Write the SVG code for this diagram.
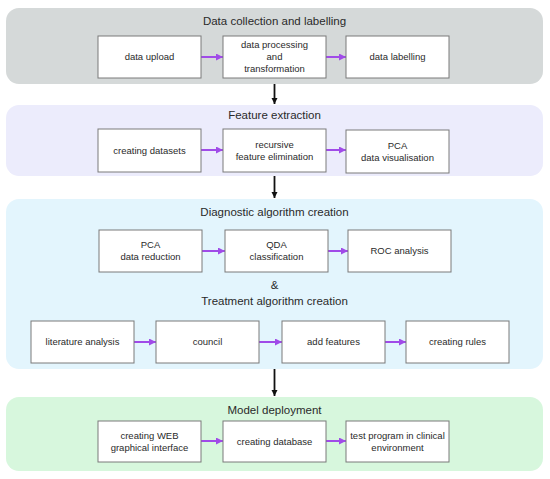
<svg xmlns="http://www.w3.org/2000/svg" width="550" height="479" viewBox="0 0 550 479">
<style>
.panel{stroke:none}
.box{fill:#fff;stroke:#7a7a7a;stroke-width:1}
.t{font-family:"Liberation Sans",Arial,sans-serif;font-size:9.5px;fill:#2a2a2a;text-anchor:middle}
.h{font-family:"Liberation Sans",Arial,sans-serif;font-size:11.5px;fill:#2a2a2a;text-anchor:middle}
.pa{stroke:#a04be8;stroke-width:2;fill:none;marker-end:url(#pm)}
.ba{stroke:#111;stroke-width:1.8;fill:none;marker-end:url(#bm)}
</style>
<defs>
<marker id="pm" viewBox="0 0 10 10" refX="10" refY="5" markerWidth="3.5" markerHeight="3.5" orient="auto" markerUnits="strokeWidth"><path d="M0,0 L10,5 L0,10 z" fill="#a04be8"/></marker>
<marker id="bm" viewBox="0 0 10 10" refX="10" refY="5" markerWidth="3.5" markerHeight="3.5" orient="auto" markerUnits="strokeWidth"><path d="M0,0 L10,5 L0,10 z" fill="#111"/></marker>
</defs>
<rect width="550" height="479" fill="#fff"/>
<g id="panels">
<g id="panel-collection"><rect class="panel" x="6" y="8" width="537" height="76" rx="13" fill="#d5d9d9"/><text class="h" x="274.5" y="25">Data collection and labelling</text></g>
<g id="panel-feature"><rect class="panel" x="6" y="105" width="537" height="71" rx="13" fill="#ececfc"/><text class="h" x="274.5" y="119">Feature extraction</text></g>
<g id="panel-algorithm"><rect class="panel" x="6" y="199" width="537" height="170" rx="13" fill="#e3f5fd"/><text class="h" x="274.5" y="216">Diagnostic algorithm creation</text><text class="h" x="274.5" y="289">&amp;</text><text class="h" x="274.5" y="305">Treatment algorithm creation</text></g>
<g id="panel-deploy"><rect class="panel" x="6" y="397" width="537" height="74" rx="13" fill="#d7f7dd"/><text class="h" x="274.5" y="414">Model deployment</text></g>
</g>
<g id="connectors">
<line class="pa" x1="201" y1="57" x2="223" y2="57"/>
<line class="pa" x1="326" y1="57" x2="346" y2="57"/>
<line class="pa" x1="201" y1="150" x2="223" y2="150"/>
<line class="pa" x1="326" y1="150" x2="346" y2="150"/>
<line class="pa" x1="202" y1="251" x2="225" y2="251"/>
<line class="pa" x1="328" y1="251" x2="348" y2="251"/>
<line class="pa" x1="134" y1="342" x2="156" y2="342"/>
<line class="pa" x1="259" y1="342" x2="282" y2="342"/>
<line class="pa" x1="385" y1="342" x2="406" y2="342"/>
<line class="pa" x1="201" y1="441" x2="223" y2="441"/>
<line class="pa" x1="326" y1="441" x2="346" y2="441"/>
<line class="ba" x1="274.5" y1="84" x2="274.5" y2="104"/>
<line class="ba" x1="274.5" y1="176" x2="274.5" y2="198"/>
<line class="ba" x1="274.5" y1="369" x2="274.5" y2="396"/>
</g>
<g id="n-upload"><rect class="box" x="98" y="36" width="103" height="42"/><text class="t" x="149.5" y="60.4">data upload</text></g>
<g id="n-processing"><rect class="box" x="223" y="36" width="103" height="42"/><text class="t" x="274.5" y="48.4">data processing</text><text class="t" x="274.5" y="60.4">and</text><text class="t" x="274.5" y="72.4">transformation</text></g>
<g id="n-labelling"><rect class="box" x="346" y="36" width="103" height="42"/><text class="t" x="397.5" y="60.4">data labelling</text></g>
<g id="n-datasets"><rect class="box" x="98" y="129" width="103" height="43"/><text class="t" x="149.5" y="153.9">creating datasets</text></g>
<g id="n-rfe"><rect class="box" x="223" y="129" width="103" height="43"/><text class="t" x="274.5" y="147.9">recursive</text><text class="t" x="274.5" y="159.9">feature elimination</text></g>
<g id="n-pcavis"><rect class="box" x="346" y="130" width="103" height="43"/><text class="t" x="397.5" y="148.9">PCA</text><text class="t" x="397.5" y="160.9">data visualisation</text></g>
<g id="n-pcared"><rect class="box" x="99" y="230" width="103" height="42"/><text class="t" x="150.5" y="248.4">PCA</text><text class="t" x="150.5" y="260.4">data reduction</text></g>
<g id="n-qda"><rect class="box" x="225" y="230" width="103" height="42"/><text class="t" x="276.5" y="248.4">QDA</text><text class="t" x="276.5" y="260.4">classification</text></g>
<g id="n-roc"><rect class="box" x="348" y="230" width="103" height="42"/><text class="t" x="399.5" y="254.4">ROC analysis</text></g>
<g id="n-literature"><rect class="box" x="31" y="321" width="103" height="42"/><text class="t" x="82.5" y="345.4">literature analysis</text></g>
<g id="n-council"><rect class="box" x="156" y="321" width="103" height="42"/><text class="t" x="207.5" y="345.4">council</text></g>
<g id="n-features"><rect class="box" x="282" y="321" width="103" height="42"/><text class="t" x="333.5" y="345.4">add features</text></g>
<g id="n-rules"><rect class="box" x="406" y="321" width="103" height="42"/><text class="t" x="457.5" y="345.4">creating rules</text></g>
<g id="n-web"><rect class="box" x="98" y="421" width="103" height="41"/><text class="t" x="149.5" y="438.9">creating WEB</text><text class="t" x="149.5" y="450.9">graphical interface</text></g>
<g id="n-database"><rect class="box" x="223" y="421" width="103" height="41"/><text class="t" x="274.5" y="444.9">creating database</text></g>
<g id="n-test"><rect class="box" x="346" y="421" width="103" height="41"/><text class="t" x="397.5" y="438.9">test program in clinical</text><text class="t" x="397.5" y="450.9">environment</text></g>
</svg>
